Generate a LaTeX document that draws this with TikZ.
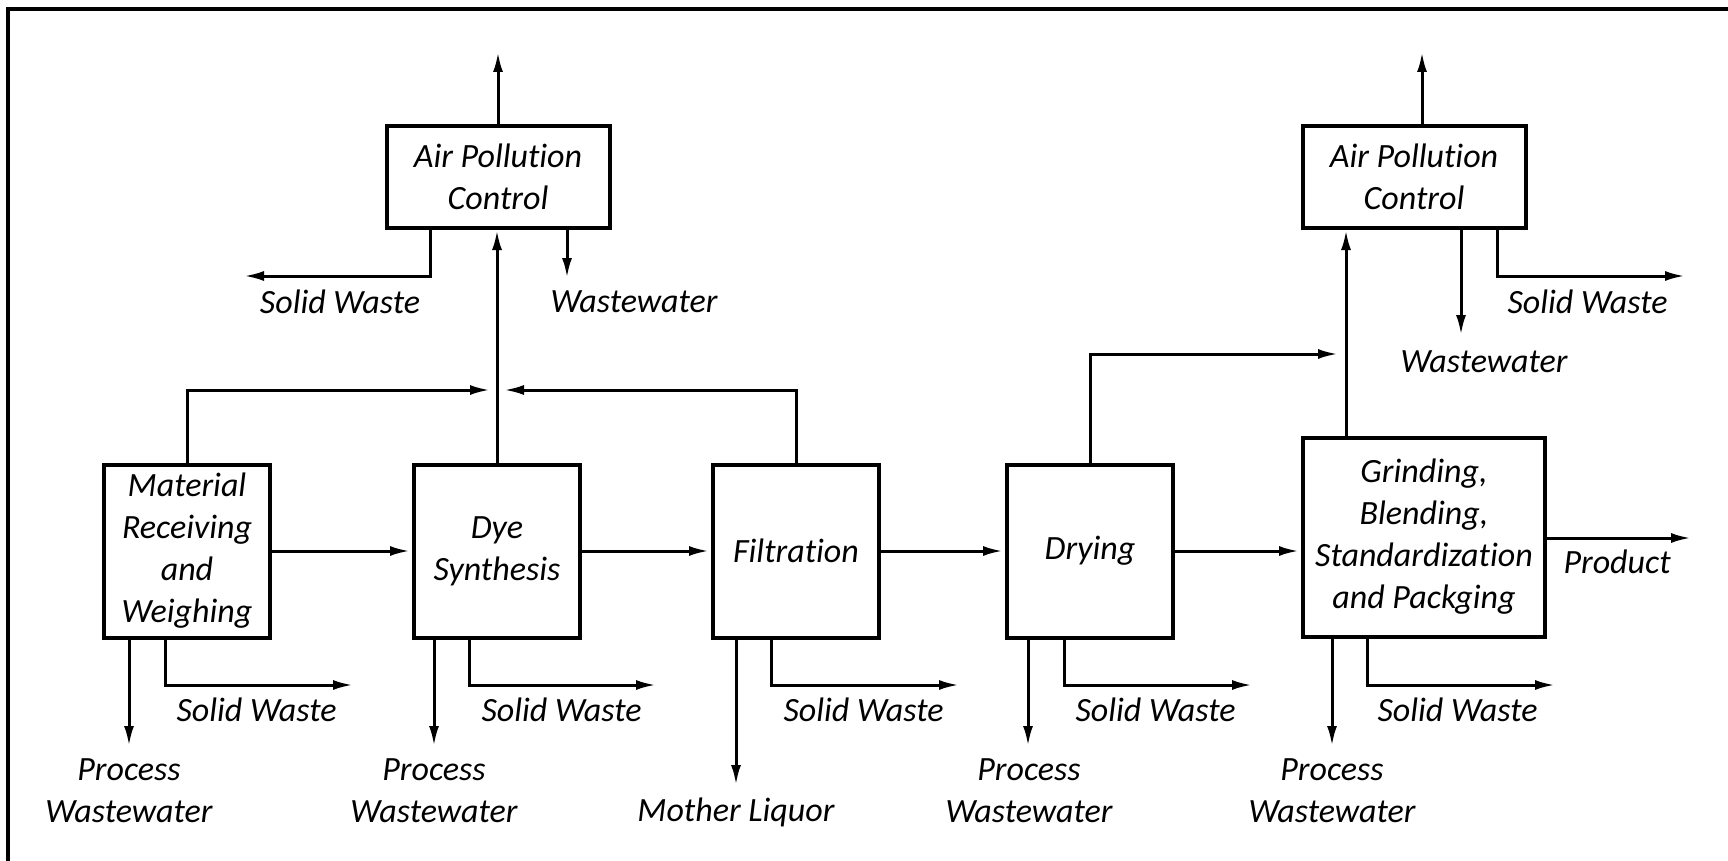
\documentclass[tikz,border=0pt]{standalone}
\usepackage{fontspec}
\setmainfont[Ligatures=NoCommon]{Carlito}
\usetikzlibrary{arrows.meta,positioning}

\begin{document}
\begin{tikzpicture}[x=1pt,y=-1pt,-{Latex[length=20pt,width=10pt]},line width=3pt,shorten >=2pt,
    every node/.style={font=\fontsize{34}{42}\selectfont\itshape},
    unit/.style={draw,line width=4pt,align=center,inner sep=0pt,minimum width=166pt,minimum height=173pt},
    apc/.style={unit,minimum width=223pt,minimum height=102pt},
    lbl/.style={align=center,inner sep=0pt}]
   \useasboundingbox (0,0) rectangle (1728,861);
   \draw[-,line width=4pt,shorten >=0pt] (1728,9) -| (8,861);

   \node[unit] (MR) at (187,551) {Material\\Receiving\\and\\Weighing};
   \node[unit] (DS) at (497,551) {Dye\\Synthesis};
   \node[unit] (FI) at (796,551) {Filtration};
   \node[unit] (DR) at (1090,551) {Drying};
   \node[unit,minimum width=242pt,minimum height=199pt] (GB) at (1424,537) {Grinding,\\Blending,\\Standardization\\and Packging};
   \node[apc] (AP1) at (498,177) {Air Pollution\\Control};
   \node[apc] (AP2) at (1414,177) {Air Pollution\\Control};

   % free ends
   \coordinate (jn1) at (497,390);
   \coordinate (jn2) at (1346,354);
   \coordinate (air1) at (498,50);
   \coordinate (air2) at (1422,50);
   \coordinate (ap1sw) at (242,276);
   \coordinate (ap1ww) at (567,280);
   \coordinate (ap2sw) at (1687,276);
   \coordinate (ap2ww) at (1461,337);
   \coordinate (prod) at (1693,538);
   \coordinate (MRpw) at (129,748);
   \coordinate (DSpw) at (434,748);
   \coordinate (FIml) at (736,787);
   \coordinate (DRpw) at (1028,748);
   \coordinate (GBpw) at (1332,748);
   \coordinate (MRsw) at (355,685);
   \coordinate (DSsw) at (658,685);
   \coordinate (FIsw) at (961,685);
   \coordinate (DRsw) at (1254,685);
   \coordinate (GBsw) at (1557,685);

   % main line
   \draw (MR) -- (DS);
   \draw (DS) -- (FI);
   \draw (FI) -- (DR);
   \draw (DR.east) -- (DR.east -| GB.west);
   \draw (GB.east |- prod) -- (prod);

   % to air pollution control
   \draw (MR.north) |- ([xshift=-5pt]jn1);
   \draw (FI.north) |- ([xshift=5pt]jn1);
   \draw[shorten >=0pt] (DS.north) -- (DS.north |- AP1.south);
   \draw (DR.north) |- ([xshift=-6pt]jn2);
   \draw[shorten >=0pt] (GB.north -| jn2) -- (AP2.south -| jn2);

   \draw (AP1.north) -- (air1);
   \draw ([xshift=-68pt]AP1.south) |- (ap1sw);
   \draw (AP1.south -| ap1ww) -- (ap1ww);
   \draw (AP2.north -| air2) -- (air2);
   \draw ([xshift=83pt]AP2.south) |- (ap2sw);
   \draw (AP2.south -| ap2ww) -- (ap2ww);

   % wastes
   \draw (MR.south -| MRpw) -- (MRpw);
   \draw ([xshift=-22pt]MR.south) |- (MRsw);
   \draw (DS.south -| DSpw) -- (DSpw);
   \draw ([xshift=-28pt]DS.south) |- (DSsw);
   \draw (FI.south -| FIml) -- (FIml);
   \draw ([xshift=-25pt]FI.south) |- (FIsw);
   \draw (DR.south -| DRpw) -- (DRpw);
   \draw ([xshift=-26pt]DR.south) |- (DRsw);
   \draw (GB.south -| GBpw) -- (GBpw);
   \draw ([xshift=-57pt]GB.south) |- (GBsw);

   % labels
   \node[lbl] (l1) at (340,302) {Solid Waste};
   \node[lbl,anchor=west] (l2) at (549,302) {Wastewater};
   \node[lbl,anchor=west] (l3) at (1506,302) {Solid Waste};
   \node[lbl] (l4) at (1484,362) {Wastewater};
   \node[lbl,anchor=west] (l5) at (1562,562) {Product};
   \node[lbl,anchor=west] (l6) at (175,710) {Solid Waste};
   \node[lbl,anchor=west] (l7) at (480,710) {Solid Waste};
   \node[lbl,anchor=west] (l8) at (782,710) {Solid Waste};
   \node[lbl,anchor=west] (l9) at (1074,710) {Solid Waste};
   \node[lbl,anchor=west] (l10) at (1376,710) {Solid Waste};
   \node[lbl] (l11) at (129,791) {Process\\Wastewater};
   \node[lbl] (l12) at (434,791) {Process\\Wastewater};
   \node[lbl] (l13) at (736,812) {Mother Liquor};
   \node[lbl] (l14) at (1029,791) {Process\\Wastewater};
   \node[lbl] (l15) at (1332,791) {Process\\Wastewater};
\end{tikzpicture}
\end{document}
